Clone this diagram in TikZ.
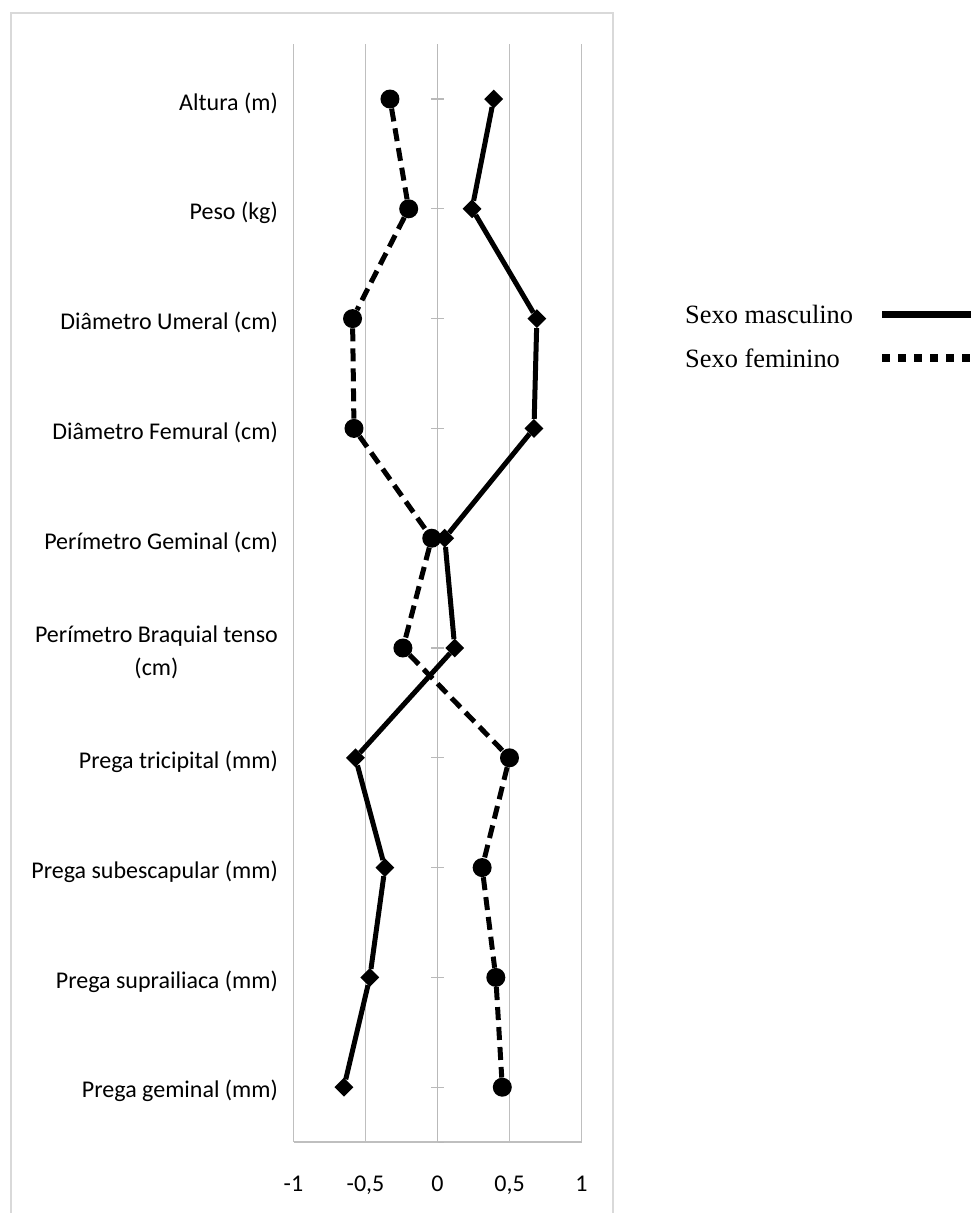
\documentclass[tikz,border=0pt]{standalone}
\usepackage{fontspec}
\setmainfont{Liberation Serif}
\newfontfamily\chartfont{Carlito}
\usetikzlibrary{positioning, shapes.geometric}

\begin{document}
\begin{tikzpicture}[
		x=1pt, y=-1pt,
		gridline/.style={gray!50, line width=1.5pt},
		axisline/.style={gray!55, line width=1.2pt},
		catlabel/.style={anchor=east, align=center, inner sep=0pt, yshift=-4pt,
			font=\chartfont\fontsize{24}{33}\selectfont},
		ticklabel/.style={anchor=base, inner sep=0pt, font=\chartfont\fontsize{24}{28}\selectfont},
		malemark/.style={diamond, fill, minimum size=19pt, inner sep=0pt},
		femmark/.style={circle, fill, minimum size=19pt, inner sep=0pt},
		maleline/.style={line width=5pt},
		femline/.style={line width=5pt, dash pattern=on 13pt off 7pt},
		legtext/.style={anchor=west, inner sep=0pt, font=\fontsize{26.4}{30}\selectfont}
		]
		
		% === CANVAS AND FRAME ===
		\useasboundingbox (0,0) rectangle (971,1213);
		\fill[white] (0,0) rectangle (971,1213);
		\draw[gray!30, line width=2pt] (10.5,1220) -- (10.5,12.5) -- (612.5,12.5) -- (612.5,1220);
		
		% === PLOT AREA (value on x, category on y) ===
		\begin{scope}[shift={(437.5,99)}, x=144pt, y=-109.8pt]
			
			% Gridlines and axes
			\draw[gridline] (-1,-0.5) -- (-1,9.5);
			\draw[gridline] (-0.5,-0.5) -- (-0.5,9.5);
			\draw[gridline] (0.5,-0.5) -- (0.5,9.5);
			\draw[gridline] (1,-0.5) -- (1,9.5);
			\draw[gridline] (-1,9.5) -- (1,9.5);
			\draw[axisline] (0,-0.5) -- (0,9.5);
			\draw[axisline] (-0.042,0) -- (0.042,0) (-0.042,1) -- (0.042,1)
			(-0.042,2) -- (0.042,2) (-0.042,3) -- (0.042,3)
			(-0.042,4) -- (0.042,4) (-0.042,5) -- (0.042,5)
			(-0.042,6) -- (0.042,6) (-0.042,7) -- (0.042,7)
			(-0.042,8) -- (0.042,8) (-0.042,9) -- (0.042,9)
			(0,9.5) -- (0.042,9.5);
			
			% Value axis labels
			\node[ticklabel] (xmone) at (-1,9.952) {-1};
			\node[ticklabel] (xmhalf) at (-0.5,9.952) {-0,5};
			\node[ticklabel] (xzero) at (0,9.952) {0};
			\node[ticklabel] (xhalf) at (0.5,9.952) {0,5};
			\node[ticklabel] (xone) at (1,9.952) {1};
			
			% Category labels
			\node[catlabel] (cat1) at (-1.1076,0) {Altura (m)};
			\node[catlabel] (cat2) at (-1.1076,1) {Peso (kg)};
			\node[catlabel] (cat3) at (-1.1076,2) {Diâmetro Umeral (cm)};
			\node[catlabel] (cat4) at (-1.1076,3) {Diâmetro Femural (cm)};
			\node[catlabel] (cat5) at (-1.1076,4) {Perímetro Geminal (cm)};
			\node[catlabel] (cat6) at (-1.1076,5) {Perímetro Braquial tenso\\(cm)};
			\node[catlabel] (cat7) at (-1.1076,6) {Prega tricipital (mm)};
			\node[catlabel] (cat8) at (-1.1076,7) {Prega subescapular (mm)};
			\node[catlabel] (cat9) at (-1.1076,8) {Prega suprailiaca (mm)};
			\node[catlabel] (cat10) at (-1.1076,9) {Prega geminal (mm)};
			
			% === SEXO MASCULINO (diamonds, solid) ===
			\node[malemark] (m1) at (0.39,0) {};
			\node[malemark] (m2) at (0.24,1) {};
			\node[malemark] (m3) at (0.69,2) {};
			\node[malemark] (m4) at (0.67,3) {};
			\node[malemark] (m5) at (0.05,4) {};
			\node[malemark] (m6) at (0.12,5) {};
			\node[malemark] (m7) at (-0.57,6) {};
			\node[malemark] (m8) at (-0.365,7) {};
			\node[malemark] (m9) at (-0.47,8) {};
			\node[malemark] (m10) at (-0.65,9) {};
			
			\draw[maleline] (m1) -- (m2);
			\draw[maleline] (m2) -- (m3);
			\draw[maleline] (m3) -- (m4);
			\draw[maleline] (m4) -- (m5);
			\draw[maleline] (m5) -- (m6);
			\draw[maleline] (m6) -- (m7);
			\draw[maleline] (m7) -- (m8);
			\draw[maleline] (m8) -- (m9);
			\draw[maleline] (m9) -- (m10);
			
			% === SEXO FEMININO (circles, dashed) ===
			\node[femmark] (f1) at (-0.33,0) {};
			\node[femmark] (f2) at (-0.20,1) {};
			\node[femmark] (f3) at (-0.59,2) {};
			\node[femmark] (f4) at (-0.58,3) {};
			\node[femmark] (f5) at (-0.04,4) {};
			\node[femmark] (f6) at (-0.24,5) {};
			\node[femmark] (f7) at (0.50,6) {};
			\node[femmark] (f8) at (0.31,7) {};
			\node[femmark] (f9) at (0.405,8) {};
			\node[femmark] (f10) at (0.45,9) {};
			
			\draw[femline] (f1) -- (f2);
			\draw[femline] (f2) -- (f3);
			\draw[femline] (f3) -- (f4);
			\draw[femline] (f4) -- (f5);
			\draw[femline] (f5) -- (f6);
			\draw[femline] (f6) -- (f7);
			\draw[femline] (f7) -- (f8);
			\draw[femline] (f8) -- (f9);
			\draw[femline] (f9) -- (f10);
		\end{scope}
		
		% === LEGEND ===
		\node[legtext] (legM) at (685,314.5) {Sexo masculino};
		\node[legtext] (legF) at (685,358) {Sexo feminino};
		\coordinate (legMa) at (882,314);
		\coordinate (legMb) at (985,314);
		\coordinate (legFa) at (882,358);
		\coordinate (legFb) at (985,358);
		\draw[line width=7pt] (legMa) -- (legMb);
		\draw[line width=8pt, dash pattern=on 8pt off 8pt] (legFa) -- (legFb);
		
	\end{tikzpicture}
\end{document}
